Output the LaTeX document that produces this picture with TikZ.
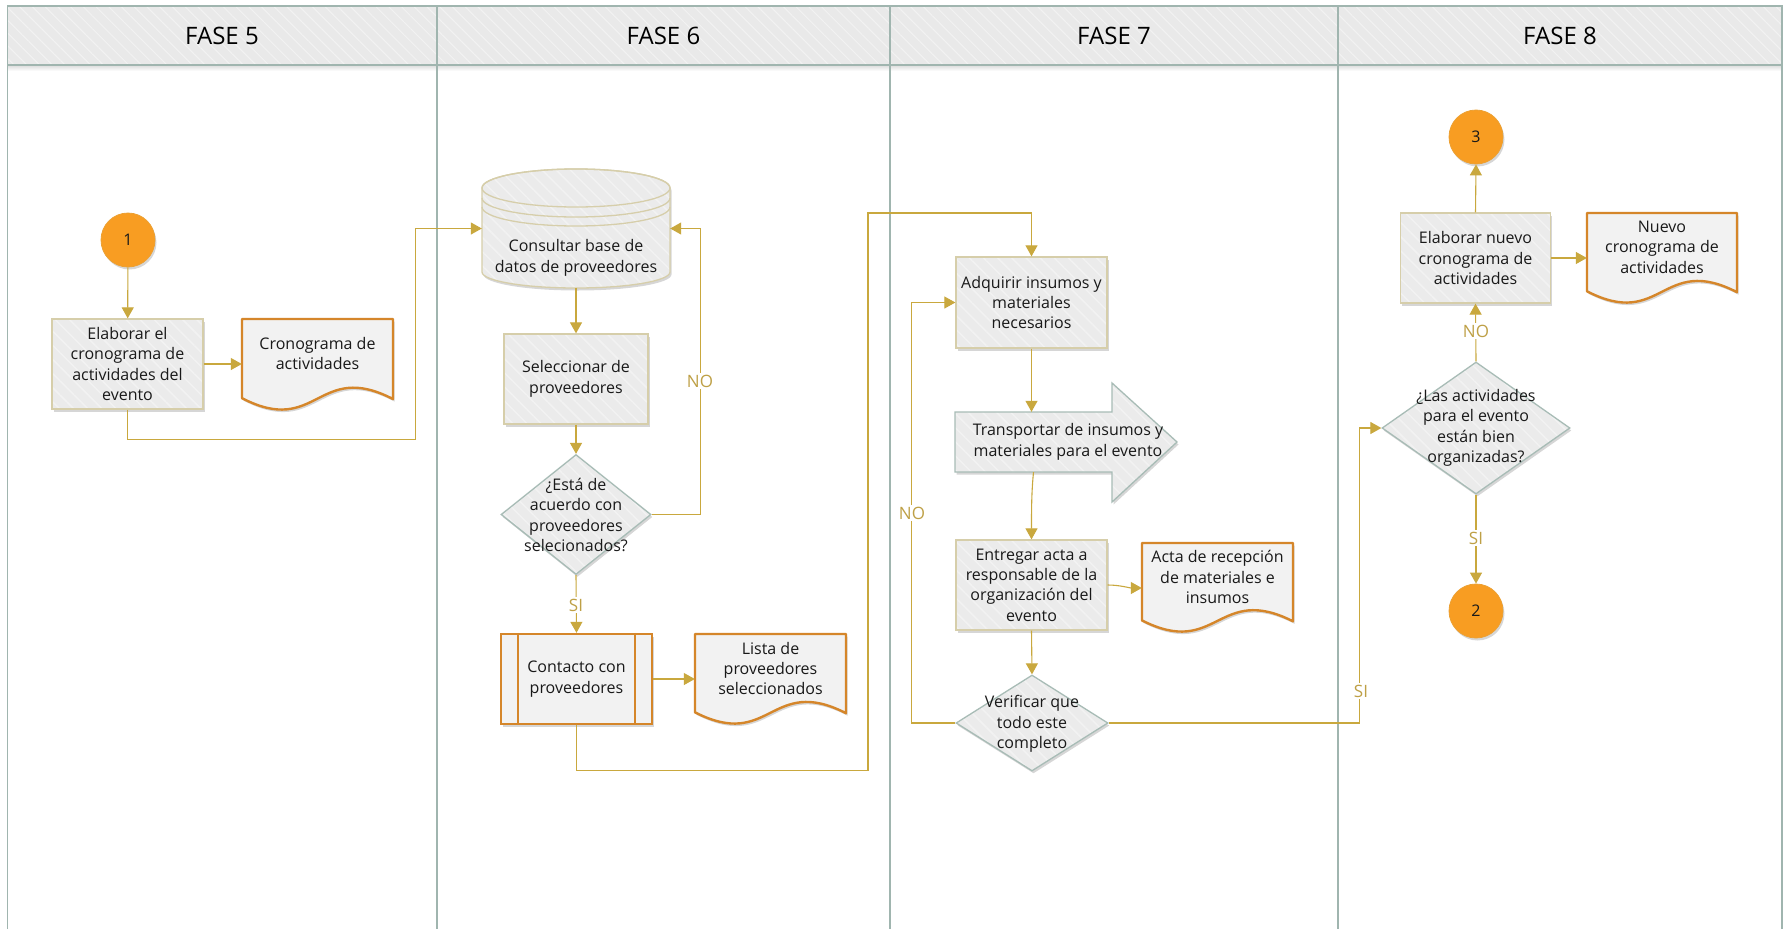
\documentclass[tikz,border=0pt]{standalone}
\usepackage{fontspec}
\setmainfont{Open Sans}
\usetikzlibrary{arrows.meta,shapes.geometric,patterns.meta,calc,shadows}
\definecolor{conn}{RGB}{201,168,62}
\definecolor{lbl}{RGB}{190,160,70}
\definecolor{boxfill}{RGB}{235,235,235}
\definecolor{boxbd}{RGB}{214,206,170}
\definecolor{hatch}{RGB}{242,242,242}
\definecolor{docbd}{RGB}{213,134,42}
\definecolor{docfill}{RGB}{242,242,242}
\definecolor{orangec}{RGB}{248,157,34}
\definecolor{orangebd}{RGB}{236,160,50}
\definecolor{diabd}{RGB}{168,188,182}
\definecolor{lanecol}{RGB}{160,181,175}
\definecolor{headfill}{RGB}{233,233,233}
\tikzset{
  every node/.style={font=\fontsize{16}{20.4}\selectfont, align=center, text=black!90},
  hatchfill/.style={preaction={fill=#1}, preaction={pattern={Lines[angle=-45,distance=10pt,line width=1.5pt]},pattern color=hatch}},
  shad/.style={drop shadow={shadow xshift=1.5pt,shadow yshift=-2.5pt,opacity=0.16,fill=black}},
  procbox/.style={rectangle, shad, hatchfill=boxfill, draw=boxbd, line width=1.3pt, inner sep=0pt},
  decbox/.style={diamond, shad, hatchfill=boxfill, draw=diabd, line width=1.3pt, inner sep=0pt},
  predbox/.style={rectangle, draw=docbd, line width=2.4pt, fill=docfill, shad, inner sep=0pt},
  docst/.style={draw=docbd, line width=2.4pt, fill=docfill, shad, line join=round},
  anchorbox/.style={rectangle, inner sep=0pt, draw=none},
  conncirc/.style={circle, fill=orangec, draw=orangebd, line width=0.8pt, minimum size=54pt, inner sep=0pt, shad},
  link/.style={draw=conn, line width=1.1pt, -{Triangle[length=11pt,width=12pt]}},
  lab/.style={fill=white, text=lbl, inner sep=1.5pt, font=\fontsize{17}{18}\selectfont},
  lanehead/.style={font=\fontsize{24}{26}\selectfont, text=black}
}
\newcommand\mydocshape[4]{%
  \path[docst] (#1,#2) -- ({#1+#3},#2) -- ({#1+#3},{#2+0.88*#4})
    .. controls ({#1+0.5*#3},{#2+0.45*#4}) and ({#1+0.5*#3},{#2+1.3*#4}) .. (#1,{#2+0.87*#4}) -- cycle;}
\begin{document}
\begin{tikzpicture}[x=1pt,y=-1pt]
\useasboundingbox (0,0) rectangle (1785,929);
\fill[white] (0,0) rectangle (1785,929);
% lanes
\path[fill=headfill, postaction={pattern={Lines[angle=-45,distance=9pt,line width=1pt]},pattern color=hatch}] (7.5,6) rectangle (1782,65);
\shade[top color=black!14, bottom color=white] (7.5,65) rectangle (1782,71);
\draw[lanecol, line width=1.5pt] (7.5,929) -- (7.5,6) -- (1782,6) -- (1782,929);
\draw[lanecol, line width=1.5pt] (7.5,65) -- (1782,65);
\foreach \xx in {437,890,1338} \draw[lanecol, line width=1.5pt] (\xx,6) -- (\xx,929);
\node[lanehead] (h5) at (222,36) {FASE 5};
\node[lanehead] (h6) at (663.5,36) {FASE 6};
\node[lanehead] (h7) at (1114,36) {FASE 7};
\node[lanehead] (h8) at (1560,36) {FASE 8};

% ---------- shapes drawn as paths ----------
% database
\path[shad, hatchfill=boxfill, draw=boxbd, line width=1.3pt] (482,188) -- (482,272) arc[start angle=180, end angle=0, x radius=94, y radius=16] -- (670,188) arc[start angle=0, end angle=-180, x radius=94, y radius=19] -- cycle;
\draw[boxbd, line width=1.3pt] (576,188) ellipse[x radius=94, y radius=19];
\draw[boxbd, line width=1.3pt] (482,198) arc[start angle=180, end angle=0, x radius=94, y radius=19];
\draw[boxbd, line width=1.3pt] (482,207) arc[start angle=180, end angle=0, x radius=94, y radius=19];
\node[anchorbox, minimum width=188pt, minimum height=119pt] (db) at (576,228.5) {};
\node (dbt) at (576,258) {Consultar base de\\datos de proveedores};

% transport arrow
\path[shad, hatchfill=boxfill, draw=diabd, line width=1.3pt, line join=miter] (955,412) -- (1112,412) -- (1112,383) -- (1177,442) -- (1112,502) -- (1112,472) -- (955,472) -- cycle;
\node[anchorbox, minimum width=157pt, minimum height=60pt] (t1) at (1033.5,442) {};
\node (t1t) at (1068,442) {Transportar de insumos y\\materiales para el evento};

% documents
\mydocshape{242}{319}{151}{91}
\node[anchorbox, minimum width=151pt, minimum height=90pt] (d1) at (317.5,364) {};
\node (d1t) at (317.5,353.6) {Cronograma de\\actividades};
\mydocshape{695}{634}{151}{90}
\node[anchorbox, minimum width=151pt, minimum height=90pt] (l1) at (770.5,679) {};
\node (l1t) at (770.5,668.5) {Lista de\\proveedores\\seleccionados};
\mydocshape{1142}{543}{151}{89}
\node[anchorbox, minimum width=151pt, minimum height=90pt] (ac) at (1217.5,588) {};
\node (act) at (1217.5,577) {Acta de recepción\\de materiales e\\insumos};
\mydocshape{1587}{213}{150}{90}
\node[anchorbox, minimum width=150pt, minimum height=90pt] (n2) at (1662,258) {};
\node (n2t) at (1662,247) {Nuevo\\cronograma de\\actividades};

% ---------- nodes ----------
\node[conncirc] (c1) at (128,240) {1};
\node[procbox, minimum width=151pt, minimum height=90pt] (e1) at (127.5,364) {Elaborar el\\cronograma de\\actividades del\\evento};
\node[procbox, minimum width=144pt, minimum height=90pt] (s1) at (576,379) {Seleccionar de\\proveedores};
\node[decbox, minimum width=150pt, minimum height=120pt] (q1) at (576,514.5) {};
\node (q1t) at (576,515) {¿Está de\\acuerdo con\\proveedores\\selecionados?};
\node[predbox, minimum width=151pt, minimum height=90pt] (p1) at (576.5,679) {Contacto con\\proveedores};
\draw[docbd, line width=2.4pt] ($(p1.north west)+(18,0)$) -- ($(p1.south west)+(18,0)$);
\draw[docbd, line width=2.4pt] ($(p1.north east)+(-18,0)$) -- ($(p1.south east)+(-18,0)$);
\node[procbox, minimum width=151pt, minimum height=91pt] (a1) at (1031.5,302.5) {Adquirir insumos y\\materiales\\necesarios};
\node[procbox, minimum width=151pt, minimum height=90pt] (g1) at (1031.5,585) {Entregar acta a\\responsable de la\\organización del\\evento};
\node[decbox, minimum width=152pt, minimum height=96pt] (v1) at (1032,723) {};
\node (v1t) at (1032,724) {Verificar que\\todo este\\completo};
\node[conncirc] (c3) at (1476,137) {3};
\node[procbox, minimum width=150pt, minimum height=90pt] (e2) at (1475.5,258) {Elaborar nuevo\\cronograma de\\actividades};
\node[decbox, minimum width=188pt, minimum height=132pt] (q2) at (1476,428) {};
\node (q2t) at (1476,428) {¿Las actividades\\para el evento\\están bien\\organizadas?};
\node[conncirc] (c2) at (1476,611) {2};

% ---------- connectors ----------
\draw[link] (c1) -- (e1);
\draw[link] (e1) -- (d1);
\draw[link] (e1.south) -- ++(0,30) -| ($(db.west)+(-66,0)$) -- (db.west);
\draw[link] (db.south) -- (s1.north);
\draw[link] (s1.south) -- (q1.north);
\draw[link] (q1.east) -| ($(db.east)+(30,0)$) -- (db.east);
\draw[link] (q1.south) -- (p1.north);
\draw[link] (p1) -- (l1);
\draw[link] (p1.south) -- ++(0,45) -| (868,213) -| (a1.north);
\draw[link] (a1.south) -- (a1.south |- t1.north);
\draw[link] (t1.south) .. controls ++(-2,20) and ++(0,-30) .. (g1.north);
\draw[link] (g1.east) .. controls ++(12,0) and ++(-12,0) .. (ac.west);
\draw[link] (g1.south) -- (v1.north);
\draw[link] (v1.west) -| ($(a1.west)+(-44,0)$) -- (a1.west);
\draw[link] (v1.east) -| ($(q2.west)+(-22,0)$) -- (q2.west);
\draw[link] (q2.north) -- (e2.south);
\draw[link] (e2.north) -- (c3.south);
\draw[link] (e2.east) -- (n2.west);
\draw[link] (q2.south) -- (c2.north);

% ---------- labels ----------
\node[lab] (lno1) at (700,381) {NO};
\node[lab] (lsi1) at (576,605) {SI};
\node[lab] (lno2) at (912,513) {NO};
\node[lab] (lsi2) at (1361,691) {SI};
\node[lab] (lno3) at (1476,331) {NO};
\node[lab] (lsi3) at (1476,538) {SI};
\end{tikzpicture}
\end{document}
